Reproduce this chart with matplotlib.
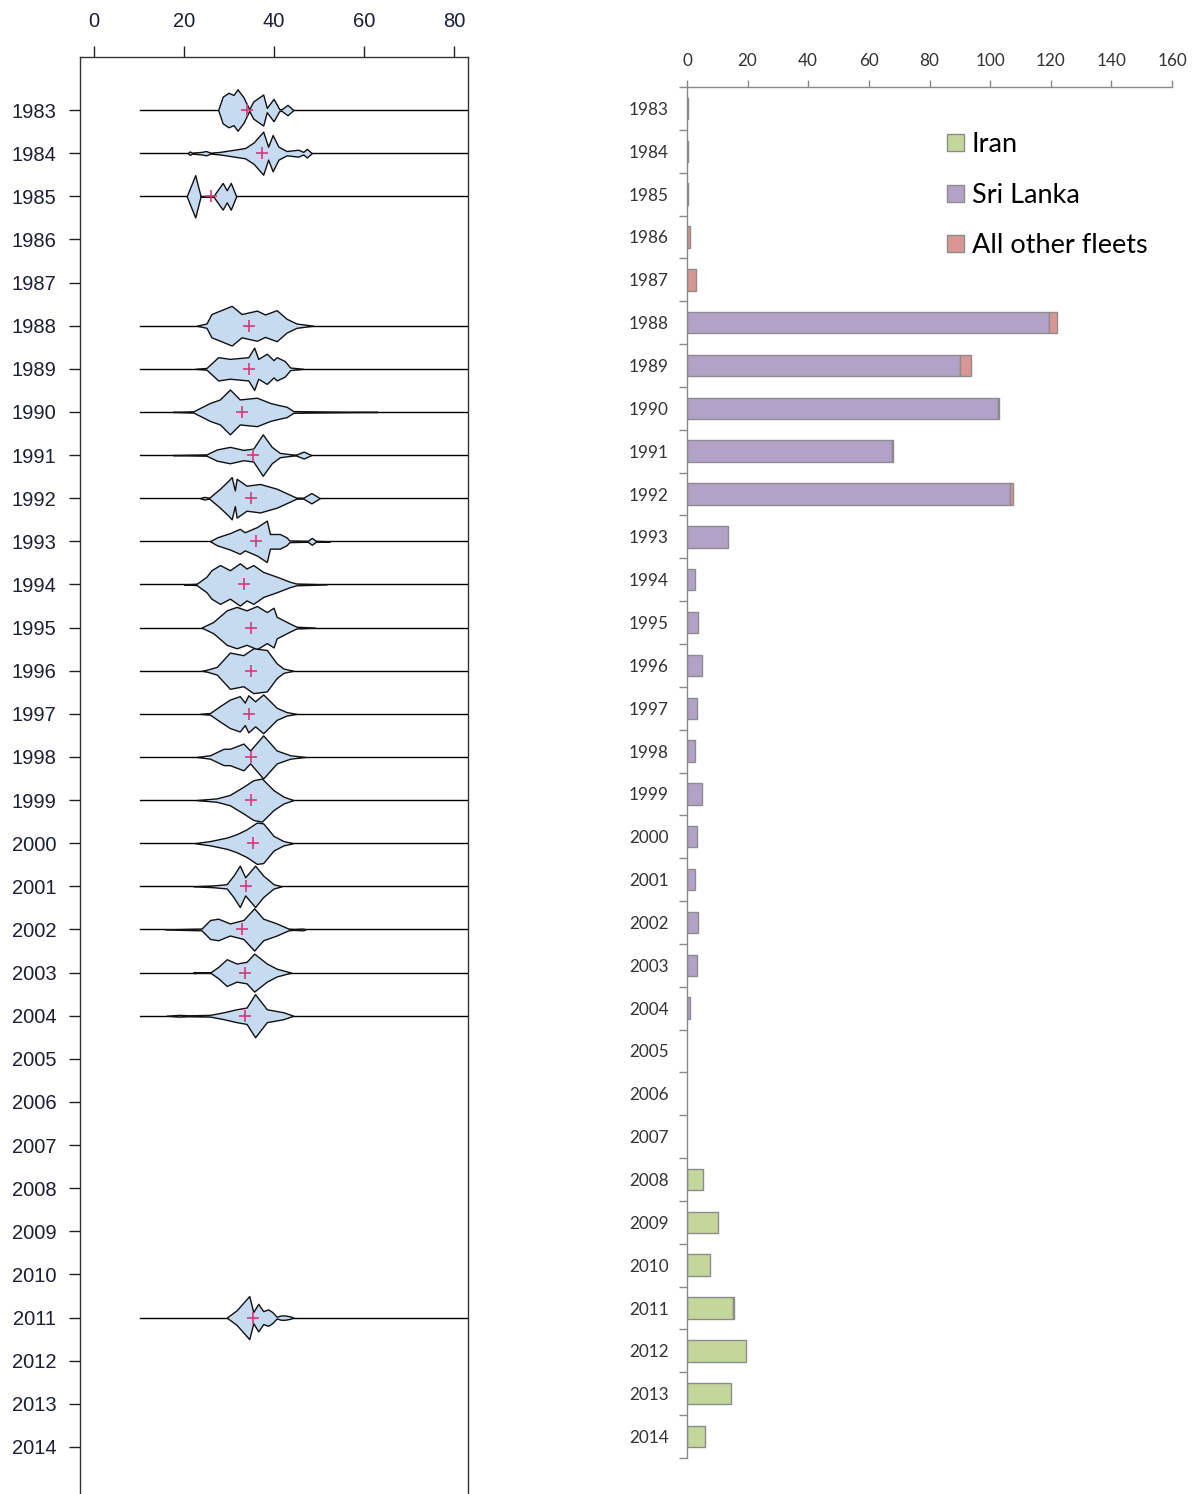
import numpy as np
import matplotlib
matplotlib.use("Agg")
import matplotlib.pyplot as plt
from matplotlib.patches import Patch

# ---- left panel: bean plot of lengths per year ----
years = list(range(1983, 2015))

bean_years = [1983, 1984, 1985, 1988, 1989, 1990, 1991, 1992, 1993, 1994, 1995,
              1996, 1997, 1998, 1999, 2000, 2001, 2002, 2003, 2004, 2011]
bean_means = [34.1, 37.4, 26.0, 34.4, 34.4, 32.8, 35.4, 35.0, 35.9, 33.3, 34.8,
              34.8, 34.4, 34.8, 35.0, 35.4, 33.8, 32.8, 33.6, 33.6, 35.4]
# profile of each bean: length values and half-width (fraction of a year row)
bean_lengths = [
    [27.6, 28.6, 29.9, 31.0, 31.9, 33.2, 34.5, 35.4, 37.6, 38.4, 39.9, 41.2, 41.7, 43.0, 44.3],
    [20.8, 21.3, 21.8, 23.9, 24.9, 25.9, 28.0, 29.9, 33.6, 35.5, 37.6, 38.7, 39.7, 41.0, 42.8, 45.4, 46.5, 47.3, 48.4],
    [20.6, 22.5, 23.7, 26.5, 28.6, 29.5, 30.4, 31.6],
    [22.8, 25.0, 26.1, 28.0, 30.6, 32.8, 36.2, 38.0, 40.6, 42.8, 45.0, 48.7],
    [22.5, 25.0, 27.6, 30.2, 34.3, 35.6, 36.5, 38.4, 39.9, 40.6, 42.4, 43.6, 46.5],
    [17.5, 22.1, 25.8, 28.0, 30.2, 32.4, 36.2, 39.1, 40.6, 42.8, 44.3, 52.0, 63.0],
    [17.5, 25.0, 27.3, 30.2, 33.2, 35.4, 37.5, 39.5, 41.3, 44.3, 44.9, 46.6, 48.3],
    [23.6, 24.5, 25.6, 28.0, 29.9, 30.6, 31.3, 31.7, 33.9, 36.9, 40.6, 45.0, 46.5, 48.3, 50.2],
    [25.8, 27.3, 30.2, 32.4, 33.5, 36.2, 38.4, 39.1, 41.3, 42.8, 43.4, 47.5, 48.4, 49.3, 52.4],
    [20.0, 22.8, 25.0, 26.1, 28.0, 30.2, 32.4, 33.9, 35.4, 37.6, 40.6, 43.6, 45.0, 51.7],
    [23.9, 26.5, 29.5, 31.7, 33.9, 36.2, 38.4, 39.9, 40.6, 43.6, 45.0, 49.1],
    [24.0, 25.0, 27.3, 30.2, 33.2, 35.4, 38.4, 40.6, 42.1, 44.3],
    [23.6, 25.8, 28.0, 30.2, 32.4, 33.5, 34.3, 35.8, 37.6, 40.6, 42.8, 45.0],
    [22.8, 25.8, 28.8, 30.2, 31.7, 33.2, 34.7, 37.6, 40.6, 43.6, 46.9],
    [22.8, 27.3, 30.2, 33.2, 35.4, 37.3, 39.9, 42.1, 44.3],
    [22.4, 25.8, 29.5, 31.7, 33.9, 36.2, 37.6, 39.9, 42.1, 44.3],
    [22.1, 26.5, 29.5, 31.0, 32.4, 33.6, 35.8, 37.6, 39.9, 41.7],
    [15.8, 23.9, 25.8, 27.6, 30.2, 33.2, 35.6, 37.6, 40.6, 43.2, 44.3, 46.5, 47.0],
    [22.0, 22.4, 22.8, 25.8, 27.6, 29.5, 31.7, 33.9, 35.6, 38.4, 40.6, 43.8],
    [16.1, 19.0, 21.0, 25.8, 28.8, 31.7, 33.9, 35.8, 38.4, 42.1, 44.3],
    [29.5, 31.7, 34.5, 35.4, 36.5, 37.6, 38.7, 39.6, 40.6, 41.5, 42.4, 43.5, 44.3],
]
bean_widths = [
    [0, 0.31, 0.40, 0.35, 0.48, 0.30, 0.02, 0.20, 0.36, 0.05, 0.26, 0.02, 0.02, 0.12, 0],
    [0, 0.04, 0.01, 0.03, 0.05, 0.01, 0.03, 0.06, 0.12, 0.25, 0.50, 0.15, 0.42, 0.15, 0.05, 0.08, 0.03, 0.10, 0],
    [0, 0.49, 0, 0, 0.31, 0.14, 0.31, 0],
    [0, 0.05, 0.27, 0.35, 0.46, 0.27, 0.35, 0.26, 0.36, 0.16, 0.05, 0],
    [0, 0.02, 0.27, 0.23, 0.27, 0.49, 0.23, 0.35, 0.20, 0.27, 0.18, 0.03, 0],
    [0, 0.015, 0.21, 0.29, 0.52, 0.29, 0.33, 0.21, 0.17, 0.12, 0.02, 0.01, 0],
    [0, 0.015, 0.13, 0.19, 0.12, 0.15, 0.48, 0.19, 0.05, 0.01, 0.01, 0.08, 0],
    [0, 0.03, 0.01, 0.22, 0.41, 0.49, 0.18, 0.45, 0.29, 0.33, 0.22, 0.01, 0.01, 0.12, 0],
    [0, 0.09, 0.19, 0.29, 0.21, 0.33, 0.48, 0.17, 0.17, 0.09, 0.02, 0.01, 0.08, 0.01, 0],
    [0, 0.015, 0.18, 0.33, 0.45, 0.33, 0.49, 0.37, 0.45, 0.29, 0.18, 0.06, 0.02, 0],
    [0, 0.13, 0.40, 0.48, 0.40, 0.50, 0.36, 0.46, 0.25, 0.09, 0.02, 0],
    [0, 0.02, 0.09, 0.42, 0.36, 0.52, 0.48, 0.17, 0.05, 0],
    [0, 0.02, 0.18, 0.33, 0.41, 0.26, 0.43, 0.29, 0.45, 0.14, 0.04, 0],
    [0, 0.04, 0.19, 0.19, 0.25, 0.31, 0.15, 0.50, 0.15, 0.04, 0],
    [0, 0.04, 0.12, 0.31, 0.46, 0.50, 0.23, 0.08, 0],
    [0, 0.05, 0.13, 0.21, 0.32, 0.48, 0.46, 0.17, 0.05, 0],
    [0, 0.02, 0.05, 0.25, 0.48, 0.21, 0.48, 0.25, 0.05, 0],
    [0, 0.02, 0.22, 0.25, 0.14, 0.22, 0.49, 0.25, 0.14, 0.02, 0.01, 0.02, 0],
    [0, 0.015, 0, 0, 0.13, 0.31, 0.21, 0.25, 0.44, 0.21, 0.09, 0],
    [0, 0.02, 0.01, 0.02, 0.08, 0.15, 0.19, 0.50, 0.15, 0.08, 0],
    [0, 0.17, 0.50, 0.13, 0.32, 0.15, 0.19, 0.13, 0.02, 0.05, 0.05, 0.03, 0],
]
line_start = 10.2

# ---- right panel: stacked bars ----
iran = [0, 0, 0, 0, 0, 0, 0, 0, 0, 0, 0, 0, 0, 0, 0, 0,
        0, 0, 0, 0, 0, 0, 0, 0, 0, 5.2, 10.2, 7.7, 15.2, 19.5, 14.5, 5.9]
sri_lanka = [0.4, 0.4, 0.4, 0, 0, 119.5, 90.2, 102.6, 67.6, 106.7, 13.5, 2.6, 3.6, 4.9, 3.3, 2.6,
             4.9, 3.3, 2.6, 3.6, 3.3, 1.0, 0, 0, 0, 0, 0, 0, 0, 0, 0, 0]
other = [0, 0, 0, 1.0, 3.0, 2.5, 3.4, 0.3, 0.3, 0.9, 0, 0, 0, 0, 0, 0,
         0, 0, 0, 0, 0, 0, 0, 0, 0, 0, 0, 0, 0.3, 0, 0, 0]
series_names = ["Iran", "Sri Lanka", "All other fleets"]
series_colors = ["#c4d79b", "#b3a2c7", "#d99694"]

W, H = 1196, 1494
fig = plt.figure(figsize=(W / 100, H / 100), dpi=100)

# left axes
axl = fig.add_axes([80 / W, 0, 388 / W, 1 - 57 / H])
axl.set_xlim(-3.1, 83.1)
axl.set_ylim(2015.09, 1981.77)
for yr in bean_years:
    axl.plot([line_start, 90], [yr, yr], color="black", lw=1, zorder=1)
for yr, m, xs, ws in zip(bean_years, bean_means, bean_lengths, bean_widths):
    xs = np.array(xs)
    ws = np.array(ws)
    axl.fill_between(xs, yr - ws, yr + ws, facecolor="#c6daf0", edgecolor="#111111",
                     lw=1.0, zorder=2)
    axl.plot(m, yr, marker="+", color="#d63a78", ms=8, mew=1.2, zorder=3)

axl.xaxis.tick_top()
axl.set_xticks([0, 20, 40, 60, 80])
axl.set_yticks(years)
axl.set_yticklabels([str(y) for y in years])
axl.tick_params(axis="x", direction="out", length=8, width=1, pad=11,
                labelsize=14.5, colors="#222222", labelcolor="#1a1f33")
axl.tick_params(axis="y", direction="out", length=8, width=1, pad=9,
                labelsize=14.5, colors="#222222", labelcolor="#1a1f33")
for lab in axl.get_xticklabels() + axl.get_yticklabels():
    lab.set_family("Liberation Sans")
axl.spines["bottom"].set_visible(False)
for s in ["top", "left", "right"]:
    axl.spines[s].set_color("#333333")
    axl.spines[s].set_linewidth(1)

# right axes
axr = fig.add_axes([687 / W, 1 - 1458 / H, 485 / W, (1458 - 87) / H])
axr.set_xlim(0, 160)
axr.set_ylim(2014.5, 1982.5)
left = np.zeros(len(years))
for vals, name, col in zip([iran, sri_lanka, other], series_names, series_colors):
    vals = np.array(vals, dtype=float)
    mask = vals > 0
    axr.barh(np.array(years)[mask], vals[mask], left=left[mask], height=0.5,
             color=col, edgecolor="#8c8c8c", lw=1, zorder=2)
    left = left + vals

axr.xaxis.tick_top()
axr.set_xticks(range(0, 161, 20))
axr.set_yticks(years)
axr.set_yticklabels([str(y) for y in years])
axr.set_yticks([y + 0.5 for y in [1982] + years], minor=True)
axr.tick_params(axis="x", direction="out", length=5, width=1, pad=8,
                labelsize=12.3, colors="#888888", labelcolor="#333333")
axr.tick_params(axis="y", which="major", length=0, pad=13, labelsize=12.3,
                labelcolor="#333333")
axr.tick_params(axis="y", which="minor", direction="out", length=6, width=1,
                colors="#888888")
for lab in axr.get_xticklabels() + axr.get_yticklabels():
    lab.set_family("Lato")
for s in ["bottom", "right"]:
    axr.spines[s].set_visible(False)
for s in ["top", "left"]:
    axr.spines[s].set_color("#888888")
    axr.spines[s].set_linewidth(1)

handles = [Patch(facecolor=c, edgecolor="#8c8c8c", lw=1) for c in series_colors]
fig.legend(handles, series_names, loc="upper left",
           bbox_to_anchor=(942 / W, 1 - 127 / H), frameon=False,
           prop={"family": "Lato", "size": 19.5}, handlelength=0.6,
           handleheight=0.6, handletextpad=0.3, labelspacing=0.94,
           borderaxespad=0, borderpad=0.2)

fig.savefig("out.png", dpi=100)
